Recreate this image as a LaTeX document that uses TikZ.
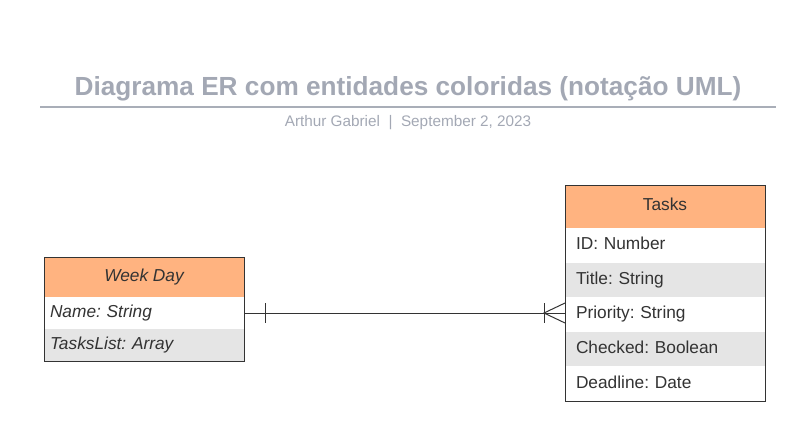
\documentclass[tikz,border=0pt]{standalone}
\usepackage{fontspec}
\setmainfont{Liberation Sans}
\usetikzlibrary{calc}
\frenchspacing
\definecolor{titlegray}{HTML}{A3A8B4}
\definecolor{linegray}{HTML}{A9AEB8}
\definecolor{inkgray}{HTML}{333333}
\definecolor{headorange}{HTML}{FFB380}
\definecolor{rowgray}{HTML}{E5E5E5}
\tikzset{
  head/.style={draw=inkgray, fill=headorange, line width=1pt, minimum width=200pt, anchor=north west, inner sep=0pt, outer sep=0pt, text height=12.4pt, text depth=3.6pt, text=inkgray, font=\fontsize{17.3}{20}\selectfont},
  field/.style={fill=#1, minimum width=200pt, minimum height=32pt, anchor=north west, inner xsep=6pt, inner ysep=0pt, outer sep=0pt, text width=188pt, text height=12.4pt, text depth=3.6pt, align=left, text=inkgray, font=\fontsize{17.3}{20}\selectfont},
  field/.default=white,
  taskfield/.style={field=#1, minimum height=34.6pt, inner xsep=11pt, text width=178pt},
  taskfield/.default=white
}
\def\drawCrowFoot{
\draw[inkgray, line width=1pt] ($(tkend)+(-21,-10)$) -- ($(tkend)+(-21,10)$);
\draw[inkgray, line width=1pt] (tkend) ++(0,-10) -- ($(tkend)+(-21,0)$) -- ($(tkend)+(0,10)$);
}

\begin{document}
\begin{tikzpicture}[x=1pt, y=-1pt]
  \useasboundingbox (0,0) rectangle (805,447);
  % title block
  \node[text=titlegray, font=\bfseries\fontsize{26.2}{30}\selectfont] (title) at (408,89) {Diagrama ER com entidades coloridas (notação UML)};
  \coordinate (ruleL) at (40,107);
  \coordinate (ruleR) at (776,107);
  \draw[linegray, line width=1.5pt] (ruleL) -- (ruleR);
  \node[text=titlegray, font=\fontsize{15.3}{17}\selectfont] (byline) at (408,123) {Arthur Gabriel\ \ |\ \ September 2, 2023};
  % Week Day
  \node[head, minimum height=40pt] (wdhead) at (44,257) {\itshape Week Day};
  \node[field] (wdr1) at (44,297) {\itshape Name: String};
  \node[field=rowgray] (wdr2) at (44,329) {\itshape TasksList: Array};
  \draw[inkgray, line width=1pt] (wdhead.north west) rectangle (wdr2.south east);
  % Tasks
  \node[head, minimum height=43pt, text depth=5pt] (tkhead) at (565,185) {Tasks};
  \node[taskfield] (tkr1) at (565,228) {ID: Number};
  \node[taskfield=rowgray] (tkr2) at (tkr1.south west) {Title: String};
  \node[taskfield] (tkr3) at (tkr2.south west) {Priority: String};
  \node[taskfield=rowgray] (tkr4) at (tkr3.south west) {Checked: Boolean};
  \node[taskfield] (tkr5) at (tkr4.south west) {Deadline: Date};
  \draw[inkgray, line width=1pt] (tkhead.north west) rectangle (tkr5.south east);
  % relation
  \coordinate (tkend) at (wdr1.east -| tkr3.west);
  \draw[inkgray, line width=1pt] (wdr1.east) -- (tkend);
  \draw[inkgray, line width=1pt] ($(wdr1.east)+(21,-10)$) -- ($(wdr1.east)+(21,10)$);
  \drawCrowFoot
\end{tikzpicture}
\end{document}
